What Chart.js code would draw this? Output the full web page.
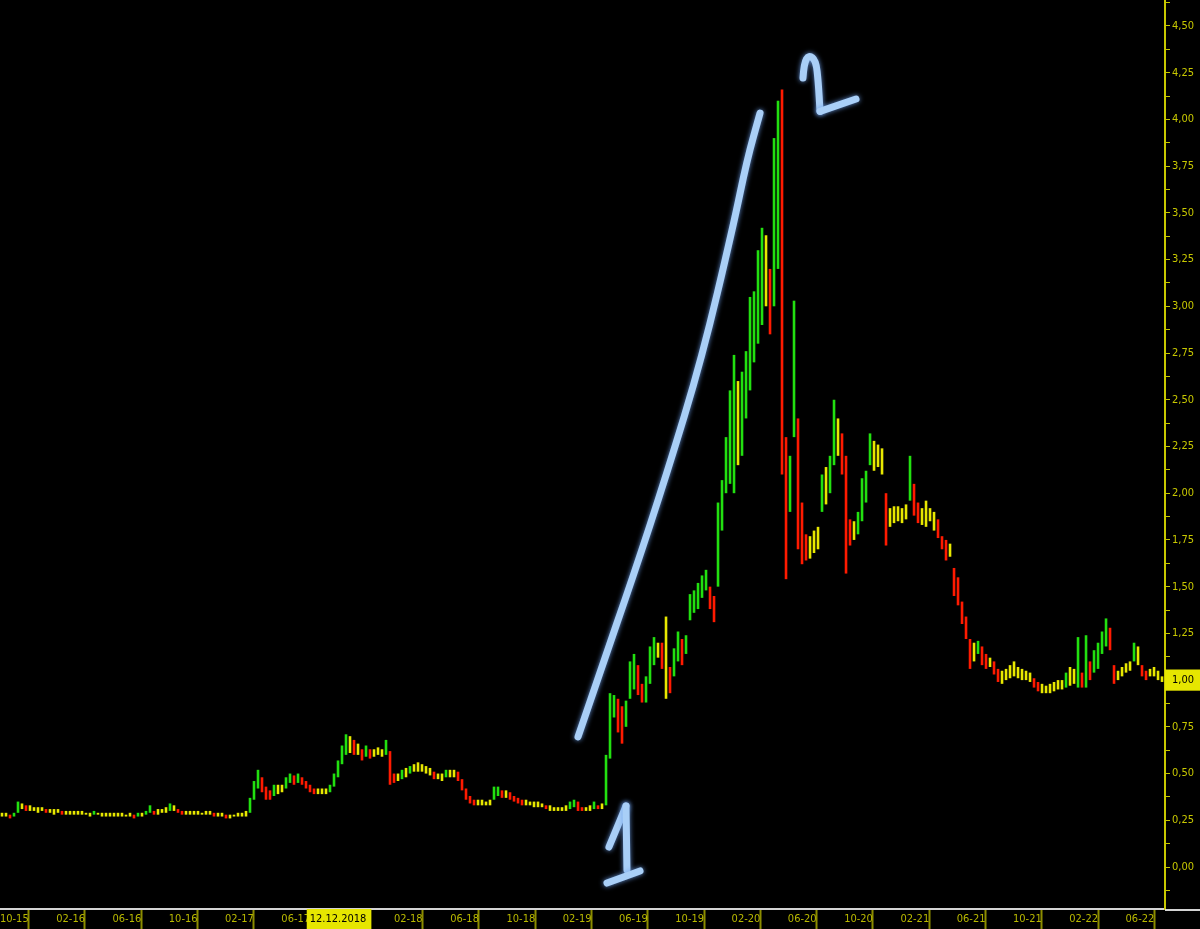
<!DOCTYPE html>
<html>
<head>
<meta charset="utf-8">
<script src="https://cdn.jsdelivr.net/npm/chart.js@4"></script>
<style>
  html, body { margin: 0; padding: 0; background: #000; }
  #wrap { width: 1200px; height: 929px; }
</style>
</head>
<body>
<div id="wrap"><canvas id="priceChart" width="1200" height="929"></canvas></div>
<script>
// x values are months counted from Jan 2015 (0 = Jan 2015)
const firstMonth = 7.102;
const monthStep = 0.2843;

const lows = [
  0.27,0.27,0.26,0.27,0.29,0.31,0.30,0.30,0.30,0.29,
  0.30,0.29,0.29,0.28,0.29,0.28,0.28,0.28,0.28,0.28,
  0.28,0.28,0.27,0.28,0.28,0.27,0.27,0.27,0.27,0.27,
  0.27,0.27,0.27,0.26,0.27,0.27,0.28,0.29,0.28,0.28,
  0.29,0.29,0.30,0.30,0.29,0.28,0.28,0.28,0.28,0.28,
  0.28,0.28,0.28,0.27,0.27,0.27,0.26,0.26,0.27,0.27,
  0.27,0.27,0.29,0.36,0.42,0.40,0.36,0.36,0.38,0.39,
  0.40,0.42,0.45,0.44,0.45,0.44,0.42,0.40,0.39,0.39,
  0.39,0.39,0.40,0.43,0.48,0.55,0.60,0.61,0.60,0.60,
  0.57,0.59,0.58,0.59,0.60,0.59,0.60,0.44,0.45,0.46,
  0.47,0.48,0.50,0.51,0.51,0.51,0.50,0.49,0.47,0.47,
  0.46,0.48,0.48,0.48,0.46,0.41,0.36,0.34,0.33,0.33,
  0.33,0.33,0.33,0.36,0.38,0.37,0.37,0.36,0.35,0.34,
  0.33,0.33,0.33,0.32,0.32,0.32,0.31,0.30,0.30,0.30,
  0.30,0.30,0.31,0.32,0.30,0.30,0.30,0.30,0.31,0.31,
  0.31,0.33,0.58,0.80,0.72,0.66,0.75,0.90,0.95,0.92,
  0.88,0.88,0.98,1.08,1.12,1.06,0.90,0.93,1.02,1.10,
  1.08,1.14,1.32,1.36,1.38,1.44,1.48,1.38,1.31,1.50,
  1.80,2.00,2.05,2.00,2.15,2.20,2.40,2.55,2.70,2.80,
  2.90,3.00,2.85,3.00,3.20,2.10,1.54,1.90,2.30,1.70,
  1.62,1.64,1.65,1.68,1.70,1.90,1.94,2.00,2.15,2.20,
  2.10,1.57,1.72,1.75,1.78,1.85,1.95,2.15,2.12,2.14,
  2.10,1.72,1.82,1.84,1.85,1.84,1.86,1.96,1.88,1.84,
  1.83,1.82,1.85,1.80,1.76,1.70,1.64,1.66,1.45,1.40,
  1.30,1.22,1.06,1.10,1.14,1.08,1.06,1.07,1.03,0.99,
  0.98,1.00,1.01,1.02,1.01,1.00,1.00,0.99,0.96,0.94,
  0.93,0.93,0.93,0.94,0.95,0.95,0.96,0.97,0.98,0.96,
  0.96,0.96,1.00,1.04,1.06,1.14,1.18,1.16,0.98,1.00,
  1.02,1.04,1.05,1.10,1.08,1.02,1.00,1.02,1.02,1.00,
  0.99
];

const highs = [
  0.29,0.29,0.28,0.29,0.35,0.34,0.33,0.33,0.32,0.32,
  0.32,0.31,0.31,0.31,0.31,0.30,0.30,0.30,0.30,0.30,
  0.30,0.29,0.29,0.30,0.29,0.29,0.29,0.29,0.29,0.29,
  0.29,0.28,0.29,0.28,0.29,0.29,0.30,0.33,0.30,0.31,
  0.31,0.32,0.34,0.33,0.31,0.30,0.30,0.30,0.30,0.30,
  0.29,0.30,0.30,0.29,0.29,0.29,0.28,0.28,0.28,0.29,
  0.29,0.30,0.37,0.46,0.52,0.48,0.43,0.41,0.44,0.44,
  0.44,0.48,0.50,0.49,0.50,0.48,0.46,0.44,0.42,0.42,
  0.42,0.42,0.44,0.50,0.57,0.65,0.71,0.70,0.68,0.66,
  0.63,0.65,0.63,0.63,0.64,0.63,0.68,0.62,0.50,0.50,
  0.52,0.53,0.54,0.55,0.56,0.55,0.54,0.53,0.51,0.50,
  0.50,0.52,0.52,0.52,0.51,0.47,0.42,0.38,0.36,0.36,
  0.36,0.35,0.36,0.43,0.43,0.41,0.41,0.40,0.38,0.37,
  0.36,0.36,0.35,0.35,0.35,0.34,0.33,0.33,0.32,0.32,
  0.32,0.33,0.35,0.36,0.35,0.32,0.32,0.33,0.35,0.33,
  0.34,0.60,0.93,0.92,0.90,0.86,0.89,1.10,1.14,1.08,
  0.98,1.02,1.18,1.23,1.20,1.20,1.34,1.07,1.17,1.26,
  1.22,1.24,1.46,1.48,1.52,1.56,1.59,1.50,1.45,1.95,
  2.07,2.30,2.55,2.74,2.60,2.65,2.76,3.05,3.08,3.30,
  3.42,3.38,3.20,3.90,4.10,4.16,2.30,2.20,3.03,2.40,
  1.95,1.78,1.77,1.80,1.82,2.10,2.14,2.20,2.50,2.40,
  2.32,2.20,1.86,1.85,1.90,2.08,2.12,2.32,2.28,2.26,
  2.24,2.00,1.92,1.93,1.93,1.92,1.94,2.20,2.05,1.95,
  1.92,1.96,1.92,1.90,1.86,1.77,1.75,1.73,1.60,1.55,
  1.42,1.34,1.22,1.20,1.21,1.18,1.14,1.12,1.10,1.06,
  1.05,1.06,1.08,1.10,1.07,1.06,1.05,1.04,1.01,0.99,
  0.98,0.97,0.98,0.99,1.00,1.00,1.04,1.07,1.06,1.23,
  1.04,1.24,1.10,1.16,1.20,1.26,1.33,1.28,1.08,1.05,
  1.07,1.09,1.10,1.20,1.18,1.08,1.05,1.06,1.07,1.05,
  1.02
];

const xTickMonths = [9, 13, 17, 21, 25, 29, 33, 37, 41, 45, 49, 53, 57, 61, 65, 69, 73, 77, 81, 85, 89];
const xTickLabels = ['10-15', '02-16', '06-16', '10-16', '02-17', '06-17', '12.12.2018', '02-18', '06-18', '10-18',
  '02-19', '06-19', '10-19', '02-20', '06-20', '10-20', '02-21', '06-21', '10-21', '02-22', '06-22'];
const cursorMonth = 33;

const priceTicks = [0, 0.25, 0.5, 0.75, 1, 1.25, 1.5, 1.75, 2, 2.25, 2.5, 2.75, 3, 3.25, 3.5, 3.75, 4, 4.25, 4.5];
const lastPrice = 1;

// hand drawn marks, in [month, price]
const trendStroke = [[48.04, 0.696], [49.60, 1.043], [51.95, 1.552], [54.37, 2.108], [56.85, 2.723], [59.06, 3.424], [60.05, 3.783], [60.98, 4.034]];
const oneTop = [[50.24, 0.107], [51.45, 0.326]];
const oneStem = [[51.45, 0.326], [51.52, -0.016]];
const oneBase = [[50.10, -0.086], [52.45, -0.021]];
const twoHook = [[64.03, 4.221], [64.10, 4.300], [64.45, 4.345], [64.95, 4.315], [65.12, 4.200], [65.24, 4.043]];
const twoBase = [[65.24, 4.043], [67.80, 4.109]];

const mids = lows.map((l, i) => (l + highs[i]) / 2);
const barColors = mids.map((m, i) => {
  if (i === 0) return '#e8e800';
  const d = m - mids[i - 1];
  const tol = m * 0.02;
  if (d > tol) return '#22e010';
  if (d < -tol) return '#ff1a00';
  return '#e8e800';
});

const fmt = v => v.toFixed(2).replace('.', ',');
const FONT = "'Liberation Sans Narrow', 'DejaVu Sans Condensed', sans-serif";

const handDrawn = {
  id: 'handDrawn',
  afterDraw(chart) {
    const c = chart.ctx, xs = chart.scales.x, ys = chart.scales.y;
    const area = chart.chartArea;
    // bottom rule continues under the price axis
    c.save();
    c.strokeStyle = '#d4d4d4';
    c.lineWidth = 2;
    c.beginPath();
    c.moveTo(area.right, area.bottom + 1);
    c.lineTo(chart.width, area.bottom + 1);
    c.stroke();
    c.restore();

    const path = pts => {
      const p = pts.map(q => [xs.getPixelForValue(q[0]), ys.getPixelForValue(q[1])]);
      c.beginPath();
      c.moveTo(p[0][0], p[0][1]);
      for (let i = 1; i < p.length - 1; i++) {
        const mx = (p[i][0] + p[i + 1][0]) / 2, my = (p[i][1] + p[i + 1][1]) / 2;
        c.quadraticCurveTo(p[i][0], p[i][1], mx, my);
      }
      c.lineTo(p[p.length - 1][0], p[p.length - 1][1]);
      c.stroke();
    };
    c.save();
    c.strokeStyle = '#a9cff7';
    c.lineWidth = 7;
    c.lineCap = 'round';
    c.lineJoin = 'round';
    c.shadowColor = 'rgba(110,160,235,0.9)';
    c.shadowBlur = 5;
    [trendStroke, oneTop, oneStem, oneBase, twoHook, twoBase].forEach(path);
    c.restore();
  }
};

new Chart(document.getElementById('priceChart').getContext('2d'), {
  type: 'bar',
  data: {
    datasets: [{
      data: lows.map((l, i) => ({ x: firstMonth + i * monthStep, y: [l, highs[i]] })),
      backgroundColor: barColors,
      borderWidth: 0,
      categoryPercentage: 1,
      barPercentage: 0.65
    }]
  },
  options: {
    responsive: false,
    animation: false,
    layout: { padding: 0 },
    plugins: { legend: { display: false }, tooltip: { enabled: false } },
    scales: {
      x: {
        type: 'linear',
        offset: false,
        min: 6.96,
        max: 89.76,
        afterFit: s => { s.height = 20; s.paddingLeft = 0; s.paddingRight = 0; },
        afterBuildTicks: s => { s.ticks = xTickMonths.map(v => ({ value: v })); },
        border: { color: '#d4d4d4', width: 2 },
        grid: {
          offset: false,
          drawOnChartArea: false,
          tickLength: 20,
          tickWidth: 2,
          tickColor: ctx => (ctx.tick && ctx.tick.value === cursorMonth) ? 'rgba(0,0,0,0)' : '#8c8c00'
        },
        ticks: {
          autoSkip: false,
          maxRotation: 0,
          align: 'end',
          padding: -16,
          font: { family: FONT, size: 11 },
          color: ctx => (ctx.tick && ctx.tick.value === cursorMonth) ? '#000' : '#b8b800',
          showLabelBackdrop: ctx => !!(ctx.tick && ctx.tick.value === cursorMonth),
          backdropColor: '#e6e600',
          backdropPadding: { left: 3, right: 5, top: 4, bottom: 5 },
          callback: (v, i) => xTickLabels[i]
        }
      },
      y: {
        position: 'right',
        min: -0.2247,
        max: 4.6388,
        afterFit: s => { s.width = 35; s.paddingTop = 0; s.paddingBottom = 0; },
        afterBuildTicks: s => {
          const t = [];
          priceTicks.forEach(v => { t.push({ value: v - 0.125 }); t.push({ value: v }); });
          t.push({ value: 4.625 });
          s.ticks = t;
        },
        border: { color: '#c8c800', width: 2 },
        grid: { drawOnChartArea: false, tickLength: 5, tickColor: '#c8c800' },
        ticks: {
          padding: 2,
          font: { family: FONT, size: 11 },
          color: ctx => (ctx.tick && ctx.tick.value === lastPrice) ? '#000' : '#c8c800',
          showLabelBackdrop: ctx => !!(ctx.tick && ctx.tick.value === lastPrice),
          backdropColor: '#e6e600',
          backdropPadding: { left: 7, right: 12, top: 4, bottom: 4 },
          callback: v => priceTicks.includes(v) ? fmt(v) : ''
        }
      }
    }
  },
  plugins: [handDrawn]
});
</script>
</body>
</html>
